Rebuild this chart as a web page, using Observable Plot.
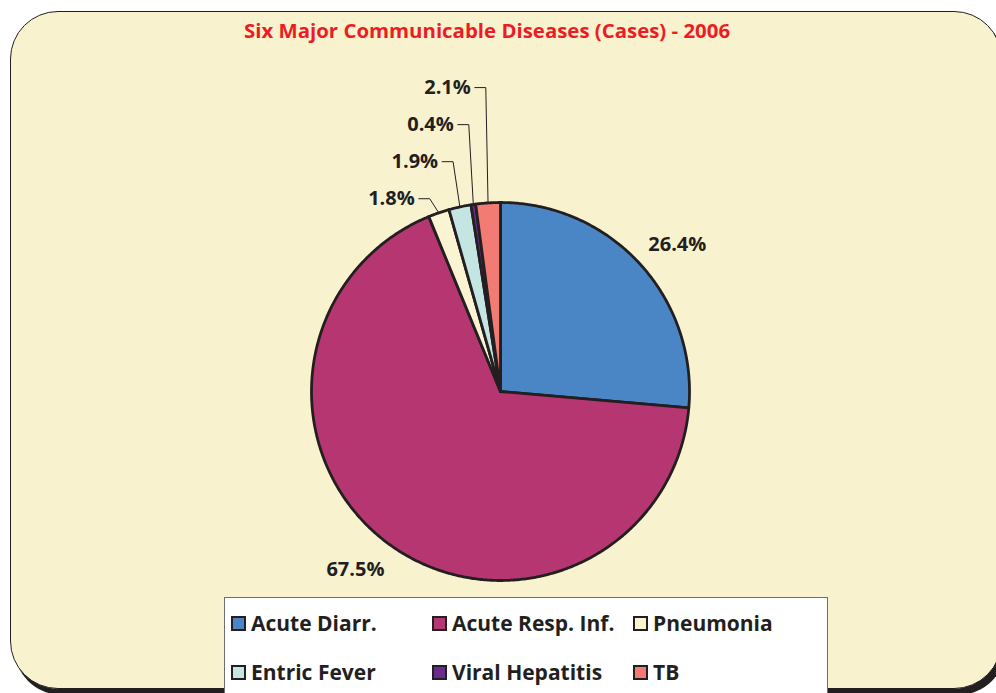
<!DOCTYPE html>
<html>
<head>
<meta charset="utf-8">
<script src="https://cdn.jsdelivr.net/npm/d3@7"></script>
<script src="https://cdn.jsdelivr.net/npm/@observablehq/plot@0.6"></script>
<style>
  html, body { margin: 0; padding: 0; background: #ffffff; overflow: hidden; }
  #page { position: relative; width: 996px; height: 693px; overflow: hidden; font-family: "Open Sans", Lato, sans-serif; }
  #bg { position: absolute; left: 10px; top: 11px; width: 990px; height: 676px; background: #f9f2ce;
        border: 1.5px solid #231f20; border-radius: 48px; box-shadow: 4px 6px 0 #231f20; }
  #title { position: absolute; left: 0; top: 17px; width: 974px; text-align: center; color: #ed1c24;
           font-weight: bold; font-size: 20.4px; line-height: 26px; }
  #chart { position: absolute; left: 0; top: 0; }
  #legend { position: absolute; left: 224px; top: 597px; width: 602px; height: 130px; background: #ffffff;
            border: 1px solid #6d6e71; }
  .item { position: absolute; display: flex; align-items: center; font-weight: bold; font-size: 21px; line-height: 26px; color: #231f20; white-space: nowrap; }
  .sw { width: 11px; height: 11px; border: 2.5px solid #231f20; margin-right: 5px; }
</style>
</head>
<body>
<div id="page">
  <div id="bg"></div>
  <div id="title"></div>
  <div id="chart"></div>
  <div id="legend"></div>
</div>
<script>
const title = "Six Major Communicable Diseases (Cases) - 2006";
const categories = ["Acute Diarr.", "Acute Resp. Inf.", "Pneumonia", "Entric Fever", "Viral Hepatitis", "TB"];
const values = [26.4, 67.5, 1.8, 1.9, 0.4, 2.1];
const labels = ["26.4%", "67.5%", "1.8%", "1.9%", "0.4%", "2.1%"];
const colors = ["#4a86c6", "#b53670", "#fbf4d3", "#c5e5e3", "#6b2b8c", "#f27b73"];

document.getElementById("title").textContent = title;

// pie geometry
const R = 189; // pixel radius
const arcs = d3.pie().sort(null)(values);
const slicePts = [];
arcs.forEach((a, i) => {
  slicePts.push({name: categories[i], x: 0, y: 0});
  const n = Math.max(2, Math.ceil((a.endAngle - a.startAngle) / (Math.PI / 360)));
  for (let k = 0; k <= n; k++) {
    const t = a.startAngle + (a.endAngle - a.startAngle) * k / n;
    slicePts.push({name: categories[i], x: Math.sin(t), y: Math.cos(t)});
  }
  slicePts.push({name: categories[i], x: 0, y: 0});
});

const bigLabels = [];
const leaderPts = [];
const smallLabels = [];
let k = 0;
arcs.forEach((a, i) => {
  const mid = (a.startAngle + a.endAngle) / 2;
  if (values[i] > 10) {
    const t = mid + 0.05;
    bigLabels.push({label: labels[i], x: 1.215 * Math.sin(t), y: 1.215 * Math.cos(t)});
  } else {
    const px = Math.sin(mid), py = Math.cos(mid);
    const ly = 1.02 + k * 0.196;
    const ex = px - 0.012 * (4 - k);
    leaderPts.push({id: i, x: px, y: py});
    leaderPts.push({id: i, x: ex, y: ly});
    leaderPts.push({id: i, x: ex - 0.058, y: ly});
    smallLabels.push({label: labels[i], x: ex - 0.058, y: ly});
    k++;
  }
});

const chart = Plot.plot({
  width: 996,
  height: 693,
  margin: 0,
  x: {domain: [-500 / R, 496 / R], axis: null},
  y: {domain: [-302 / R, 391 / R], axis: null},
  color: {domain: categories, range: colors},
  style: {background: "transparent", fontFamily: "'Open Sans', Lato, sans-serif", overflow: "visible"},
  marks: [
    Plot.line(slicePts, {x: "x", y: "y", z: "name", fill: "name", stroke: "#231f20", strokeWidth: 2.8, strokeLinejoin: "round", curve: "linear"}),
    Plot.line(leaderPts, {x: "x", y: "y", z: "id", stroke: "#231f20", strokeWidth: 1}),
    Plot.text(bigLabels, {x: "x", y: "y", text: "label", fontSize: 20, fontWeight: "bold", fill: "#231f20"}),
    Plot.text(smallLabels, {x: "x", y: "y", text: "label", fontSize: 20, fontWeight: "bold", fill: "#231f20", textAnchor: "end", dx: -4})
  ]
});
document.getElementById("chart").appendChild(chart);

// legend
const legend = document.getElementById("legend");
const colX = [6, 207, 408];
const rowY = [12, 61];
categories.forEach((c, i) => {
  const it = document.createElement("div");
  it.className = "item";
  it.style.left = colX[i % 3] + "px";
  it.style.top = rowY[Math.floor(i / 3)] + "px";
  const sw = document.createElement("div");
  sw.className = "sw";
  sw.style.background = colors[i];
  const tx = document.createElement("span");
  tx.textContent = c;
  it.appendChild(sw);
  it.appendChild(tx);
  legend.appendChild(it);
});
</script>
</body>
</html>
